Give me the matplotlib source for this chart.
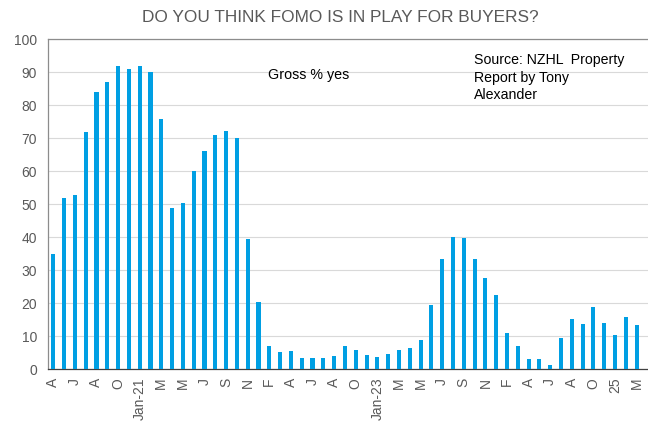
import matplotlib.pyplot as plt
import numpy as np

plt.rcParams['font.family'] = ['Liberation Sans', 'DejaVu Sans']

# Survey months (every second one is labelled on the axis)
tick_labels = ['A', 'J', 'A', 'O', 'Jan-21', 'M', 'M', 'J', 'S', 'N', 'F', 'A', 'J', 'A',
               'O', 'Jan-23', 'M', 'M', 'J', 'S', 'N', 'F', 'A', 'J', 'A', 'O', '25', 'M']

# Gross % yes
fomo_yes = [35, 52, 53, 72, 84, 87, 92, 91, 92, 90,
            76, 49, 50.4, 60.2, 66.1, 71, 72.2, 70, 39.5, 20.4,
            7.1, 5.2, 5.6, 3.4, 3.4, 3.4, 4, 7.1, 6, 4.3,
            3.7, 4.7, 6, 6.6, 9, 19.5, 33.4, 40, 39.9, 33.4,
            27.8, 22.7, 11, 7.1, 3.1, 3.1, 1.3, 9.4, 15.4, 13.9,
            19, 14, 10.5, 15.9, 13.5]

x = np.arange(len(fomo_yes))

fig = plt.figure(figsize=(6.48, 4.23), dpi=100)
ax = fig.add_axes([0.0745, 0.1265, 0.9255, 0.7805])

ax.bar(x, fomo_yes, width=0.38, color='#009FE3', zorder=3)

ax.set_xlim(-0.46, 55.05)
ax.set_ylim(0, 100)
ax.set_yticks(np.arange(0, 101, 10))
ax.set_xticks(x[::2])
ax.set_xticklabels(tick_labels, rotation=90)

ax.grid(axis='y', color='#D9D9D9', linewidth=0.8, zorder=0)
ax.tick_params(axis='both', length=0, labelsize=10, colors='#595959')
ax.tick_params(axis='y', pad=8)
ax.tick_params(axis='x', pad=6)

ax.spines['right'].set_visible(False)
ax.spines['top'].set_color('#8C8C8C')
ax.spines['left'].set_color('#8C8C8C')
ax.spines['bottom'].set_color('#404040')
for s in ax.spines.values():
    s.set_linewidth(0.9)

fig.text(340 / 648, 1 - 17 / 423, 'DO YOU THINK FOMO IS IN PLAY FOR BUYERS?',
         ha='center', va='center', fontsize=12.4, color='#595959')

ax.text(268 / 648, 1 - 75 / 423, 'Gross % yes', transform=fig.transFigure,
        ha='left', va='center', fontsize=10.3, color='black')
ax.text(474 / 648, 1 - 53 / 423, 'Source: NZHL  Property\nReport by Tony\nAlexander',
        transform=fig.transFigure, ha='left', va='top', fontsize=10.2,
        color='black', linespacing=1.33)

fig.savefig('out.png', dpi=100)
